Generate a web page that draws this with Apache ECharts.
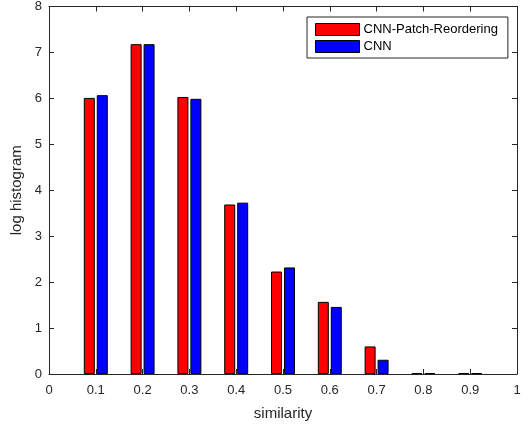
<!DOCTYPE html>
<html>
<head>
<meta charset="utf-8">
<title>similarity histogram</title>
<script src="https://cdn.jsdelivr.net/npm/echarts@6/dist/echarts.min.js"></script>
<style>
  html, body { margin: 0; padding: 0; background: #fff; }
  #chart { width: 531px; height: 428px; }
</style>
</head>
<body>
<div id="chart"></div>
<script>
// bins on the x axis
const similarity = [0.1, 0.2, 0.3, 0.4, 0.5, 0.6, 0.7, 0.8, 0.9];
// log histogram values
const patchReordering = [6.01, 7.18, 6.03, 3.69, 2.23, 1.57, 0.60, 0.02, 0.02];
const cnn = [6.07, 7.18, 5.99, 3.73, 2.32, 1.46, 0.31, 0.02, 0.02];
const seriesNames = ['CNN-Patch-Reordering', 'CNN'];

const textColor = '#262626';
const fontFamily = '"Liberation Sans", Arial, Helvetica, sans-serif';

function pairs(values) {
    return similarity.map((x, i) => [x, values[i]]);
}

// box axes like matlab: ticks inside, on all four sides
function boxAxis(pos, extra) {
    return Object.assign({
        type: 'value',
        position: pos,
        axisLine: { show: true, onZero: false, lineStyle: { color: textColor, width: 1 } },
        axisTick: { show: true, inside: true, length: 5, lineStyle: { color: textColor } },
        splitLine: { show: false }
    }, extra);
}

const chart = echarts.init(document.getElementById('chart'), null, { renderer: 'canvas' });
chart.setOption({
    animation: false,
    textStyle: { fontFamily: fontFamily },
    grid: { left: 49, right: 14, top: 4, bottom: 54 },
    legend: {
        left: 307,
        top: 17,
        orient: 'vertical',
        data: seriesNames,
        icon: 'rect',
        itemWidth: 44,
        itemHeight: 12,
        itemGap: 4,
        padding: [6, 10, 5, 8],
        borderColor: textColor,
        borderWidth: 1,
        backgroundColor: '#fff',
        itemStyle: { borderColor: '#000', borderWidth: 1 },
        textStyle: { color: '#000', fontSize: 13, fontFamily: fontFamily, padding: [0, 0, 0, -1], lineHeight: 13 }
    },
    xAxis: [
        boxAxis('bottom', {
            min: 0, max: 1, interval: 0.1,
            name: 'similarity',
            nameLocation: 'middle',
            nameGap: 32,
            nameTextStyle: { color: textColor, fontSize: 15, fontFamily: fontFamily },
            axisLabel: {
                color: textColor, fontSize: 13, margin: 10, fontFamily: fontFamily,
                formatter: v => String(+v.toFixed(1))
            }
        }),
        boxAxis('top', { min: 0, max: 1, interval: 0.1, axisLabel: { show: false } })
    ],
    yAxis: [
        boxAxis('left', {
            min: 0, max: 8, interval: 1,
            name: 'log histogram',
            nameLocation: 'middle',
            nameGap: 22,
            nameTextStyle: { color: textColor, fontSize: 15, fontFamily: fontFamily },
            axisLabel: { color: textColor, fontSize: 13, margin: 7, fontFamily: fontFamily }
        }),
        boxAxis('right', { min: 0, max: 8, interval: 1, axisLabel: { show: false } })
    ],
    series: [
        {
            name: seriesNames[0],
            type: 'bar',
            xAxisIndex: 0,
            yAxisIndex: 0,
            data: pairs(patchReordering),
            barWidth: 11,
            barGap: '18%',
            itemStyle: { color: '#ff0000', borderColor: '#000', borderWidth: 1 }
        },
        {
            name: seriesNames[1],
            type: 'bar',
            xAxisIndex: 0,
            yAxisIndex: 0,
            data: pairs(cnn),
            barWidth: 11,
            barGap: '18%',
            itemStyle: { color: '#0000ff', borderColor: '#000', borderWidth: 1 }
        }
    ]
});
</script>
</body>
</html>
